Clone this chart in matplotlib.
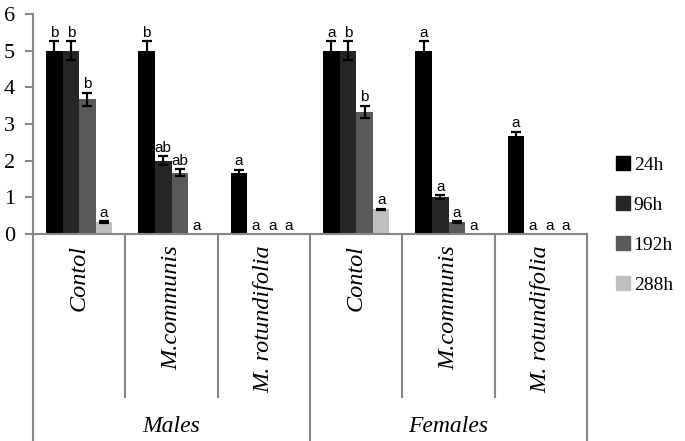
import numpy as np
import matplotlib
matplotlib.use("Agg")
import matplotlib.pyplot as plt
from matplotlib.patches import Patch

# data
groups      = ["Males", "Females"]
treatments  = ["Contol", "M.communis", "M. rotundifolia"]
series      = ["24h", "96h", "192h", "288h"]

h24         = [5.0, 5.0, 1.67, 5.0, 5.0, 2.67]
h96         = [5.0, 2.0, 0.0, 5.0, 1.0, 0.0]
h192        = [3.67, 1.67, 0.0, 3.33, 0.33, 0.0]
h288        = [0.33, 0.0, 0.0, 0.67, 0.0, 0.0]

e24         = [0.26, 0.26, 0.08, 0.26, 0.26, 0.12]
e96         = [0.26, 0.12, 0.0, 0.26, 0.05, 0.0]
e192        = [0.18, 0.09, 0.0, 0.17, 0.02, 0.0]
e288        = [0.02, 0.0, 0.0, 0.02, 0.0, 0.0]

l24         = ["b", "b", "a", "a", "a", "a"]
l96         = ["b", "ab", "a", "b", "a", "a"]
l192        = ["b", "ab", "a", "b", "a", "a"]
l288        = ["a", "a", "a", "a", "a", "a"]

colors      = ["#000000", "#262626", "#595959", "#bfbfbf"]
grey        = "#868686"
serif       = "Liberation Serif"

values      = [h24, h96, h192, h288]
errors      = [e24, e96, e192, e288]
letters     = [l24, l96, l192, l288]

fig         = plt.figure(figsize=(6.85, 4.41), dpi=100)
ax          = fig.add_axes([0.0482, 0.4694, 0.8088, 0.4989])

x           = np.arange(len(h24))
w           = 0.18
for k in range(len(series)):
    pos     = x + (k - 1.5) * w
    ax.bar(pos, values[k], width=w, color=colors[k], zorder=2)
    v       = np.array(values[k])
    e       = np.array(errors[k])
    m       = e > 0
    ax.errorbar(pos[m], v[m], yerr=e[m], fmt="none", ecolor="black",
                elinewidth=1.6, capsize=3.5, capthick=1.6, zorder=3)
    for p, val, err, lab in zip(pos, v, e, letters[k]):
        ax.text(p, val + err + 0.04, lab, ha="center", va="bottom",
                fontsize=11, family="Liberation Sans")

ax.set_xlim(-0.5, len(h24) - 0.5)
ax.set_ylim(0, 6)
ax.set_yticks(range(7))
ax.set_yticklabels([str(i) for i in range(7)], family=serif, fontsize=16)
ax.set_xticks([])
ax.tick_params(axis="y", length=6, width=1.5, color=grey, pad=7)

for s in ["top", "right"]:
    ax.spines[s].set_visible(False)
for s in ["left", "bottom"]:
    ax.spines[s].set_color(grey)
    ax.spines[s].set_linewidth(1.5)

# category separators below the axis
tr          = ax.get_xaxis_transform()
for b in np.arange(0.5, len(h24) - 1, 1.0):
    if b == 2.5:
        continue
    ax.plot([b, b], [0, -0.74], color=grey, lw=1.5, transform=tr, clip_on=False)
for b in [-0.5, 2.5, len(h24) - 0.5]:
    ax.plot([b, b], [0, -0.96], color=grey, lw=1.5, transform=tr, clip_on=False)

for i in range(len(h24)):
    ax.text(i, -0.05, treatments[i % 3], rotation=90, ha="center", va="top",
            fontsize=17.5, family=serif, style="italic", transform=tr)
for j, g in enumerate(groups):
    ax.text(1 + 3 * j, -0.877, g, ha="center", va="center",
            fontsize=17, family=serif, style="italic", transform=tr)

handles     = [Patch(color=c) for c in colors]
fig.legend(handles, series, loc="center left", bbox_to_anchor=(0.874, 0.49),
           frameon=False, prop={"family": serif, "size": 14},
           handlelength=0.7, handleheight=0.7, handletextpad=0.2,
           labelspacing=1.15)

fig.savefig("out.png", dpi=100)
